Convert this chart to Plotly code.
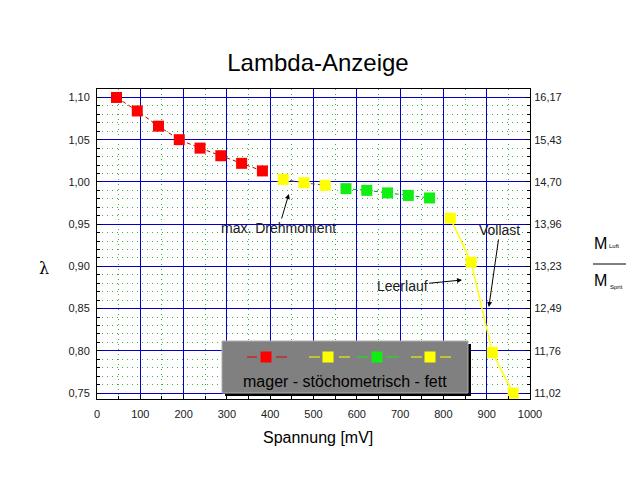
import plotly.graph_objects as go

# ---- data ----
spannung = [45, 93, 142, 190, 238, 286, 334, 382, 430, 478, 527, 575, 623, 671, 719, 768, 816, 864, 913, 961]
lam = [1.100, 1.084, 1.066, 1.050, 1.040, 1.031, 1.022, 1.013, 1.003, 0.999, 0.996,
       0.992, 0.990, 0.987, 0.984, 0.981, 0.957, 0.905, 0.798, 0.750]
groups = ["mager"] * 8 + ["stoech1"] * 3 + ["stoech2"] * 5 + ["fett"] * 4

left_ticks = [0.75, 0.80, 0.85, 0.90, 0.95, 1.00, 1.05, 1.10]
right_ticktext = ["11,02", "11,76", "12,49", "13,23", "13,96", "14,70", "15,43", "16,17"]

title_text = "Lambda-Anzeige"
x_title = "Spannung [mV]"
legend_text = "mager - stöchometrisch - fett"

# ---- styles ----
RED = "#ff0000"
YEL = "#ffff00"
GRN = "#11ee11"
styles = {
    "mager": dict(color=RED, line=dict(color="#c00000", width=1, dash="4px,3px")),
    "stoech1": dict(color=YEL, line=dict(color="#606000", width=1, dash="4px,3px")),
    "stoech2": dict(color=GRN, line=dict(color="#00a000", width=1, dash="4px,3px")),
    "fett": dict(color=YEL, line=dict(color=YEL, width=1.5)),
}

FONT = "Arial, Liberation Sans, sans-serif"
W, H = 640, 480
OFF = 8  # page offset of the figure (body margin)
PL, PR, PT, PB = 97, 530, 89, 399  # plot area in page pixels
L, T = PL - OFF, PT - OFF
R, B = W - (PR - OFF), H - (PB - OFF)
PW, PH = PR - PL, PB - PT


def px(xp):
    return (xp - PL) / PW


def py(yp):
    return (PB - yp) / PH


fig = go.Figure()
for g in ["mager", "stoech1", "stoech2", "fett"]:
    xs = [x for x, gg in zip(spannung, groups) if gg == g]
    ys = [y for y, gg in zip(lam, groups) if gg == g]
    s = styles[g]
    fig.add_trace(go.Scatter(
        x=xs, y=ys, mode="lines+markers",
        marker=dict(symbol="square", size=11, color=s["color"], line=dict(width=0)),
        line=s["line"], showlegend=False, hoverinfo="skip"))

# invisible trace to bring up the right axis
fig.add_trace(go.Scatter(x=[spannung[0]], y=[lam[0]], yaxis="y2", mode="markers",
                         marker=dict(opacity=0), showlegend=False, hoverinfo="skip"))

yrange = [0.743, 1.11]
grid_blue = "#0000c8"
minor_green = "#3cb43c"
mdash = "1px,4px"
tfont = dict(size=11, color="#202020")

fig.update_layout(
    width=W, height=H, autosize=False,
    margin=dict(l=L, r=R, t=T, b=B, autoexpand=False),
    paper_bgcolor="white", plot_bgcolor="white",
    separators=",.",
    font=dict(family=FONT, size=11, color="#202020"),
    title=dict(text=title_text, x=px(318), xref="paper", xanchor="center",
               y=1 - (63 - OFF) / H, yanchor="middle",
               font=dict(family=FONT, size=24, color="black")),
    xaxis=dict(range=[0, 1000], tickvals=list(range(0, 1001, 100)), automargin=False,
               showgrid=True, gridcolor=grid_blue, gridwidth=1,
               showline=True, linecolor="black", linewidth=1, mirror=True,
               ticks="inside", ticklen=4, tickcolor="black", ticklabelstandoff=5,
               minor=dict(dtick=50, showgrid=True, gridcolor=minor_green, griddash=mdash,
                          gridwidth=1, ticks="inside", ticklen=3, tickcolor="black"),
               zeroline=False, tickfont=tfont),
    yaxis=dict(range=yrange, tickvals=left_ticks, tickformat=".2f", automargin=False,
               showgrid=True, gridcolor=grid_blue, gridwidth=1,
               showline=True, linecolor="black", linewidth=1, mirror=True,
               ticks="inside", ticklen=4, tickcolor="black", ticklabelstandoff=4,
               minor=dict(dtick=0.01, tick0=0.75, showgrid=True, gridcolor=minor_green,
                          griddash=mdash, gridwidth=1, ticks="inside", ticklen=3,
                          tickcolor="black"),
               zeroline=False, tickfont=tfont),
    yaxis2=dict(range=yrange, overlaying="y", side="right", automargin=False,
                tickvals=left_ticks, ticktext=right_ticktext,
                showgrid=False, showline=True, linecolor="black", linewidth=1,
                ticks="inside", ticklen=4, tickcolor="black", ticklabelstandoff=1,
                minor=dict(dtick=0.01, tick0=0.75, ticks="inside", ticklen=3, tickcolor="black"),
                zeroline=False, tickfont=tfont),
)


def label(text, xp, yp, size, family=FONT):
    return dict(text=text, xref="paper", yref="paper", x=px(xp), y=py(yp),
                xanchor="center", yanchor="middle", showarrow=False,
                font=dict(family=family, size=size, color="black"))


ann = []
# axis titles
ann.append(label(x_title, 318, 437, 16))
ann.append(label("λ", 44, 268, 16, "DejaVu Serif"))
# right fraction label
ann.append(label("M", 600, 243, 16))
ann.append(label("Luft", 614, 246, 6))
ann.append(label("M", 600, 280, 16))
ann.append(label("Sprit", 616, 287, 6))

# arrow annotations
afont = dict(family=FONT, size=14, color="#202020")
ann.append(dict(text="max. Drehmoment", x=443, y=0.9857, xref="x", yref="y",
                ax=-10, ay=34, showarrow=True, arrowhead=2, arrowsize=1, arrowwidth=1,
                arrowcolor="black", font=afont))
ann.append(dict(text="Vollast", x=905, y=0.852, xref="x", yref="y",
                ax=11, ay=-77, showarrow=True, arrowhead=2, arrowsize=1, arrowwidth=1,
                arrowcolor="black", font=afont))
ann.append(dict(text="Leerlauf", x=843, y=0.8839, xref="x", yref="y",
                ax=-60, ay=6, showarrow=True, arrowhead=2, arrowsize=1, arrowwidth=1,
                arrowcolor="black", font=afont))
# legend text
ann.append(label(legend_text, 345, 381, 16))

shapes = []
# legend box shadow and box
shapes.append(dict(type="rect", xref="paper", yref="paper", x0=px(225), x1=px(471),
                   y0=py(396), y1=py(344), fillcolor="black", line=dict(width=0), layer="above"))
shapes.append(dict(type="rect", xref="paper", yref="paper", x0=px(222), x1=px(468),
                   y0=py(393), y1=py(341), fillcolor="#808080",
                   line=dict(color="#b0b0b0", width=1), layer="above"))
# legend samples: (left segment, right segment, square center, colors)
samples = [
    ((247, 257), (276, 287), 266, "#e00000", RED),
    ((309, 320), (339, 350), 328, YEL, YEL),
    ((357, 368), (386, 399), 377, GRN, GRN),
    ((411, 422), (440, 451), 430, YEL, YEL),
]
ly = py(357)
for seg1, seg2, cx, lc, mc in samples:
    for a, b in (seg1, seg2):
        shapes.append(dict(type="line", xref="paper", yref="paper", x0=px(a), x1=px(b),
                           y0=ly, y1=ly, line=dict(color=lc, width=1), layer="above"))
    shapes.append(dict(type="rect", xref="paper", yref="paper",
                       x0=px(cx - 5.5), x1=px(cx + 5.5), y0=py(362.5), y1=py(351.5),
                       fillcolor=mc, line=dict(width=0), layer="above"))
# fraction line
shapes.append(dict(type="line", xref="paper", yref="paper", x0=px(593), x1=px(626),
                   y0=py(264), y1=py(264), line=dict(color="black", width=1)))

fig.update_layout(annotations=ann, shapes=shapes)
fig.write_html("out.html")
